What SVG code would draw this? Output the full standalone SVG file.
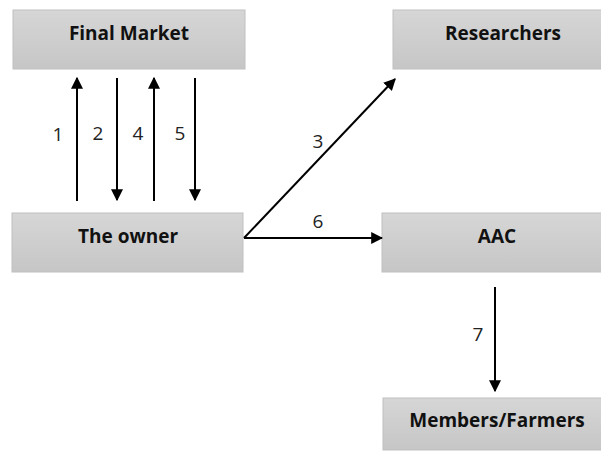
<svg xmlns="http://www.w3.org/2000/svg" width="601" height="451" viewBox="0 0 601 451">
<style>
.box{fill:url(#g);stroke:#c0c0c0;stroke-width:1}
.t{font-family:"Open Sans","Liberation Sans",sans-serif;font-weight:bold;font-size:19px;fill:#111;text-anchor:middle}
.n{font-family:"Open Sans","Liberation Sans",sans-serif;font-size:19px;fill:#222;text-anchor:middle}
.c{stroke:#000;stroke-width:2;fill:none;marker-end:url(#a)}
</style>
<defs>
<linearGradient id="g" x1="0" y1="0" x2="0" y2="1">
<stop offset="0" stop-color="#d6d6d6"/>
<stop offset="1" stop-color="#c6c6c6"/>
</linearGradient>
<marker id="a" viewBox="0 0 10 10" refX="9" refY="5" markerWidth="6" markerHeight="6" markerUnits="strokeWidth" orient="auto">
<path d="M0,0 L10,5 L0,10 z" fill="#000"/>
</marker>
</defs>
<rect width="601" height="451" fill="#fff"/>
<g id="final-market"><rect class="box" x="13" y="10" width="232" height="59"/><text class="t" x="129" y="40">Final Market</text></g>
<g id="researchers"><rect class="box" x="393" y="10" width="210" height="59"/><text class="t" x="503" y="40">Researchers</text></g>
<g id="owner"><rect class="box" x="12" y="213" width="231" height="59"/><text class="t" x="128" y="243">The owner</text></g>
<g id="aac"><rect class="box" x="382" y="213" width="220" height="59"/><text class="t" x="497" y="243">AAC</text></g>
<g id="members"><rect class="box" x="383" y="398" width="220" height="52"/><text class="t" x="497" y="427">Members/Farmers</text></g>
<g id="connectors">
<line class="c" x1="77" y1="201" x2="77" y2="78"/>
<line class="c" x1="117" y1="78" x2="117" y2="200"/>
<line class="c" x1="154" y1="201" x2="154" y2="78"/>
<line class="c" x1="195" y1="78" x2="195" y2="200"/>
<path class="c" d="M244,238 L395,79"/>
<line class="c" x1="244" y1="238" x2="382" y2="238"/>
<line class="c" x1="495" y1="287" x2="495" y2="391"/>
<text class="n" x="58" y="141">1</text>
<text class="n" x="98" y="140">2</text>
<text class="n" x="138" y="140">4</text>
<text class="n" x="180" y="140">5</text>
<text class="n" x="318" y="148">3</text>
<text class="n" x="318" y="228">6</text>
<text class="n" x="478" y="341">7</text>
</g>
</svg>
